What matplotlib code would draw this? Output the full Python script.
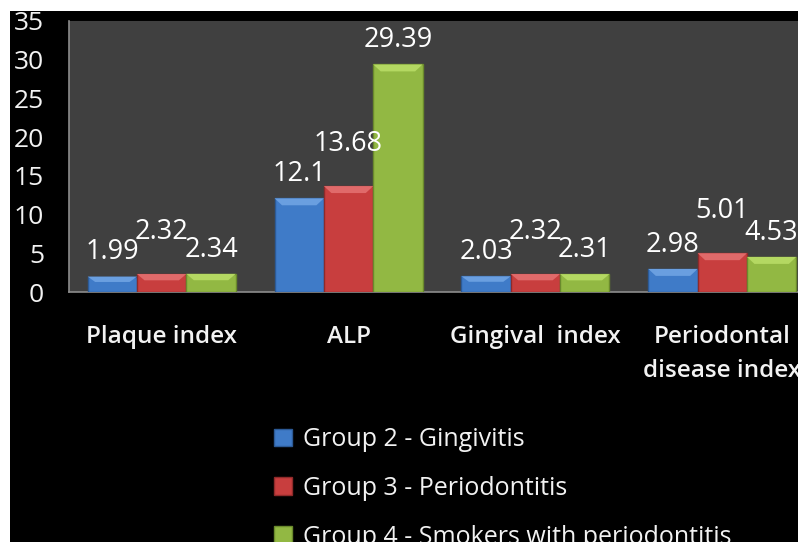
import numpy as np
import matplotlib
matplotlib.use("Agg")
import matplotlib.pyplot as plt
from matplotlib.patches import Rectangle, Polygon

plt.rcParams["font.family"] = ["Open Sans", "DejaVu Sans"]

# данные
categories = ["Plaque index", "ALP", "Gingival  index", "Periodontal\ndisease index"]
groups = ["Group 2 - Gingivitis", "Group 3 - Periodontitis",
          "Group 4 - Smokers with periodontitis"]
group2 = [1.99, 12.1, 2.03, 2.98]
group3 = [2.32, 13.68, 2.32, 5.01]
group4 = [2.34, 29.39, 2.31, 4.53]
yticks = [0, 5, 10, 15, 20, 25, 30, 35]

colors = ["#3f7bc8", "#c83e3e", "#92b843"]
edges = ["#2c5a96", "#8f2a2a", "#6a8a2c"]
tops = ["#6a9fe0", "#e06a6a", "#b4d862"]
label_dy = [17.5, 30.5, 17.5]  # сдвиг подписей, pt

W, H = 798, 542
fig = plt.figure(figsize=(W / 100, H / 100), dpi=100)
fig.patch.set_facecolor("white")
fig.add_artist(Rectangle((10 / W, 0), 1, 1 - 11 / H, transform=fig.transFigure,
                         facecolor="black", edgecolor="none", zorder=-5))

ax = fig.add_axes([69 / W, 1 - 292 / H, 1 - 69 / W, 271 / H])
ax.set_facecolor("#404040")

x = np.arange(len(categories))
bw = 0.264
series = [group2, group3, group4]
handles = []
for i, vals in enumerate(series):
    pos = x + (i - 1) * bw
    bars = ax.bar(pos, vals, bw, color=colors[i], edgecolor=edges[i],
                  linewidth=1, label=groups[i], zorder=3)
    handles.append(bars)
    for b, v in zip(bars, vals):
        # скос сверху
        x0, x1 = b.get_x(), b.get_x() + b.get_width()
        y1 = b.get_height()
        bev = min(0.9, y1 * 0.35)
        ax.add_patch(Polygon([(x0, y1), (x1, y1), (x1 - 0.04, y1 - bev), (x0 + 0.04, y1 - bev)],
                             closed=True, facecolor=tops[i], edgecolor="none", zorder=4))
        ax.annotate(f"{v:g}", (b.get_x() + b.get_width() / 2, y1),
                    xytext=(0, label_dy[i]), textcoords="offset points",
                    ha="center", va="center", color="white", fontsize=19.5,
                    annotation_clip=False, zorder=5)

ax.set_ylim(0, 35)
ax.set_xlim(-0.496, 3.405)
ax.set_yticks(yticks)
ax.set_xticks(x)
ax.set_xticklabels(categories, fontweight="semibold")
ax.tick_params(axis="y", length=0, pad=18, labelsize=19, colors="#f2f2f2")
ax.tick_params(axis="x", length=0, pad=24, labelsize=17.5, colors="#f2f2f2")
for lbl in ax.get_xticklabels():
    lbl.set_linespacing(1.55)
for s in ["top", "right"]:
    ax.spines[s].set_visible(False)
for s in ["left", "bottom"]:
    ax.spines[s].set_color("#8c8c8c")
    ax.spines[s].set_linewidth(1.2)

leg = fig.legend(handles=handles, labels=groups, loc="upper left",
                 bbox_to_anchor=(274 / W, 1 - 427 / H), frameon=False,
                 fontsize=18, labelcolor="#f2f2f2", handlelength=0.7,
                 handleheight=0.7, handletextpad=0.45, labelspacing=0.95,
                 borderpad=0, borderaxespad=0)

fig.savefig("out.png", dpi=100, facecolor=fig.get_facecolor())
